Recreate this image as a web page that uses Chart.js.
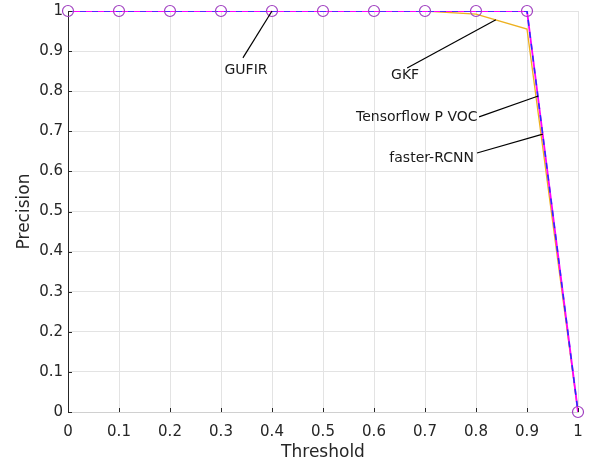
<!DOCTYPE html>
<html>
<head>
<meta charset="utf-8">
<script src="https://cdn.jsdelivr.net/npm/chart.js@4/dist/chart.umd.min.js"></script>
<style>
  html, body { margin: 0; padding: 0; background: #fff; }
  #wrap { width: 590px; height: 463px; }
</style>
</head>
<body>
<div id="wrap"><canvas id="chart"></canvas></div>
<script>
const thresholds = [0, 0.1, 0.2, 0.3, 0.4, 0.5, 0.6, 0.7, 0.8, 0.9, 1];
const gufir = [1, 1, 1, 1, 1, 1, 1, 1, 1, 1, 0];
const tensorflow = [1, 1, 1, 1, 1, 1, 1, 1, 1, 1, 0];
const fasterRcnn = [1, 1, 1, 1, 1, 1, 1, 1, 1, 1, 0];
const gkf = [1, 1, 1, 1, 1, 1, 1, 1, 0.992, 0.955, 0];

// label text, text anchor (x, y), arrow from (x, y) to (x, y)
const notes = [
  { text: "GUFIR", at: [0.349, 0.853], from: [0.343, 0.883], to: [0.4, 1] },
  { text: "GKF", at: [0.661, 0.840], from: [0.665, 0.858], to: [0.839, 0.978] },
  { text: "Tensorflow P VOC", at: [0.684, 0.736], from: [0.806, 0.736], to: [0.922, 0.788] },
  { text: "faster-RCNN", at: [0.713, 0.633], from: [0.802, 0.646], to: [0.931, 0.693] }
];

const pts = ys => thresholds.map((x, i) => ({ x: x, y: ys[i] }));

const notePlugin = {
  id: "notes",
  afterDatasetsDraw(chart) {
    const ctx = chart.ctx, xs = chart.scales.x, ys = chart.scales.y;
    const a = chart.chartArea;
    ctx.save();
    // small inward tick marks
    ctx.strokeStyle = "#262626";
    ctx.lineWidth = 1;
    ctx.beginPath();
    xs.ticks.forEach(t => {
      const px = Math.round(xs.getPixelForValue(t.value)) + 0.5;
      ctx.moveTo(px, a.bottom);
      ctx.lineTo(px, a.bottom - 4);
    });
    ys.ticks.forEach(t => {
      const py = Math.round(ys.getPixelForValue(t.value)) + 0.5;
      ctx.moveTo(a.left, py);
      ctx.lineTo(a.left + 4, py);
    });
    ctx.stroke();

    ctx.strokeStyle = "#000";
    ctx.lineWidth = 1.2;
    ctx.fillStyle = "#1a1a1a";
    ctx.font = "14px 'DejaVu Sans'";
    ctx.textAlign = "center";
    ctx.textBaseline = "middle";
    notes.forEach(n => {
      ctx.beginPath();
      ctx.moveTo(xs.getPixelForValue(n.from[0]), ys.getPixelForValue(n.from[1]));
      ctx.lineTo(xs.getPixelForValue(n.to[0]), ys.getPixelForValue(n.to[1]));
      ctx.stroke();
      ctx.fillText(n.text, xs.getPixelForValue(n.at[0]), ys.getPixelForValue(n.at[1]));
    });
    ctx.restore();
  }
};

const tickFont = { family: "DejaVu Sans", size: 15 };
const titleFont = { family: "DejaVu Sans", size: 17 };

new Chart(document.getElementById("chart"), {
  type: "line",
  data: {
    datasets: [
      { label: "GUFIR", data: pts(gufir), showLine: false, pointRadius: 5.5, clip: false,
        pointStyle: "circle", pointBorderColor: "#a040c0", pointBackgroundColor: "rgba(0,0,0,0)",
        pointBorderWidth: 1.2, order: 0 },
      { label: "Tensorflow P VOC", data: pts(tensorflow), borderColor: "#2030ff", borderWidth: 1.5,
        borderDash: [6, 6], pointRadius: 0, order: 1 },
      { label: "faster-RCNN", data: pts(fasterRcnn), borderColor: "#ff00ff", borderWidth: 1.8,
        pointRadius: 0, order: 2 },
      { label: "GKF", data: pts(gkf), borderColor: "#EDB120", borderWidth: 1.3,
        pointRadius: 0, order: 3 }
    ]
  },
  options: {
    responsive: true,
    maintainAspectRatio: false,
    animation: false,
    layout: { padding: { top: 11, right: 12, left: 0, bottom: 0 } },
    plugins: { legend: { display: false }, tooltip: { enabled: false } },
    elements: { line: { tension: 0 } },
    scales: {
      x: {
        type: "linear", min: 0, max: 1,
        ticks: { stepSize: 0.1, font: tickFont, color: "#262626", padding: 3,
          maxRotation: 0, callback: v => String(Math.round(v * 10) / 10) },
        grid: { color: "#e3e3e3", drawTicks: true, tickLength: 8, tickColor: "rgba(0,0,0,0)" },
        border: { color: "#d0d0d0" },
        title: { display: true, text: "Threshold", font: titleFont,
          color: "#262626", padding: { top: 0, bottom: 0 } },
        afterFit: s => { s.height = 51; }
      },
      y: {
        min: 0, max: 1,
        ticks: { stepSize: 0.1, font: tickFont, color: "#262626", padding: 0,
          callback: v => String(Math.round(v * 10) / 10) },
        grid: { color: "#e3e3e3", drawTicks: true, tickLength: 5, tickColor: "rgba(0,0,0,0)" },
        border: { color: "#262626" },
        title: { display: true, text: "Precision", font: titleFont,
          color: "#262626", padding: { top: 14, bottom: 2 } },
        afterFit: s => { s.width = 68; }
      }
    }
  },
  plugins: [notePlugin]
});
</script>
</body>
</html>
